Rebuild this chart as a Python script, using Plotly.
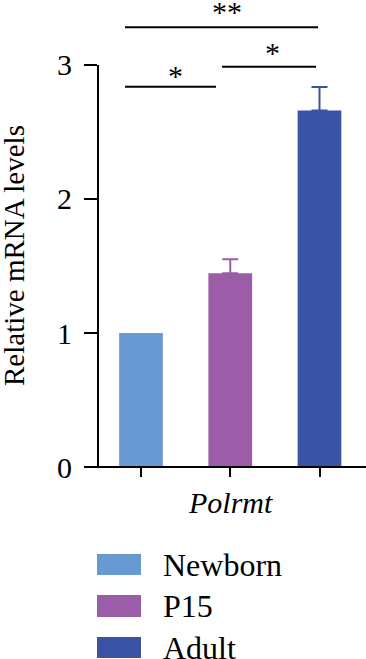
import plotly.graph_objects as go

# ---- data ----
groups = ["Newborn", "P15", "Adult"]
values = [1.0, 1.445, 2.66]
err_up = [0.0, 0.105, 0.175]
colors = ["#6899D2", "#9B5DA7", "#3A53A5"]
y_ticks = [0, 1, 2, 3]
gene_label = "Polrmt"
y_title = "Relative mRNA levels"
# significance brackets: (from group idx, to group idx, label)
sig_pairs = [(0, 2, "**"), (0, 1, "*"), (1, 2, "*")]

FONT = "Liberation Serif"
W, H = 366, 659
ML, MR, MT, MB = 98, 0, 0, 192
plot_h = H - MT - MB
plot_w = W - ML - MR
y_max = 3.485

fig = go.Figure()
for i, g in enumerate(groups):
    fig.add_trace(go.Bar(
        x=[g], y=[values[i]], name=g,
        marker=dict(color=colors[i], line=dict(width=0)),
        width=0.49,
        error_y=dict(type="data", symmetric=False, array=[err_up[i]], arrayminus=[0],
                     color=colors[i], thickness=2, width=8, visible=err_up[i] > 0),
        showlegend=False,
    ))

shapes = []
# y axis line (0..3)
shapes.append(dict(type="line", xref="paper", yref="y", x0=0, x1=0, y0=0, y1=y_ticks[-1],
                   line=dict(color="black", width=2)))
# x axis line extending slightly left of y axis
shapes.append(dict(type="line", xref="paper", yref="paper", x0=-13 / plot_w, x1=1, y0=0, y1=0,
                   line=dict(color="black", width=2)))

# significance brackets
bracket_geo = {
    (0, 2): dict(x0=-0.179, x1=1.983, y=3.281, tx=0.964, ty=3.40),
    (0, 1): dict(x0=-0.179, x1=0.840, y=2.838, tx=0.381, ty=2.92),
    (1, 2): dict(x0=0.908, x1=1.961, y=2.987, tx=1.468, ty=3.09),
}
annotations = []
for a, b, lab in sig_pairs:
    gdef = bracket_geo[(a, b)]
    shapes.append(dict(type="line", xref="x", yref="y", x0=gdef["x0"], x1=gdef["x1"],
                       y0=gdef["y"], y1=gdef["y"], line=dict(color="black", width=2)))
    annotations.append(dict(xref="x", yref="y", x=gdef["tx"], y=gdef["ty"], text=lab,
                            showarrow=False, xanchor="center", yanchor="middle",
                            font=dict(family=FONT, size=30, color="black")))

# y title
annotations.append(dict(xref="paper", yref="paper", x=(14 - ML) / plot_w, y=1 - 256 / plot_h,
                        text=y_title, textangle=-90, showarrow=False,
                        xanchor="center", yanchor="middle",
                        font=dict(family=FONT, size=29, color="black")))
# gene label
annotations.append(dict(xref="x", yref="paper", x=1, y=(plot_h - 503) / plot_h,
                        text="<i>" + gene_label + "</i>", showarrow=False,
                        xanchor="center", yanchor="middle",
                        font=dict(family=FONT, size=30, color="black")))

# manual legend
rows = [(554, 575), (595, 617), (637, 658)]
for i, g in enumerate(groups):
    t, b = rows[i]
    shapes.append(dict(type="rect", xref="paper", yref="paper",
                       x0=(97 - ML) / plot_w, x1=(141 - ML) / plot_w,
                       y0=(plot_h - b) / plot_h, y1=(plot_h - t) / plot_h,
                       fillcolor=colors[i], line=dict(width=0)))
    annotations.append(dict(xref="paper", yref="paper", x=(161 - ML) / plot_w,
                            y=(plot_h - (t + b) / 2) / plot_h, text=g, showarrow=False,
                            xanchor="left", yanchor="middle",
                            font=dict(family=FONT, size=32, color="black")))

fig.update_layout(
    width=W, height=H,
    margin=dict(l=ML, r=MR, t=MT, b=MB, pad=0),
    paper_bgcolor="white", plot_bgcolor="white",
    barmode="overlay",
    shapes=shapes, annotations=annotations,
    font=dict(family=FONT, color="black"),
    xaxis=dict(type="category", range=[-0.482, 2.521], showline=False, showgrid=False,
               zeroline=False, ticks="outside", ticklen=9, tickwidth=2, tickcolor="black",
               showticklabels=False, fixedrange=True),
    yaxis=dict(range=[0, y_max], tickvals=y_ticks, showline=False, showgrid=False,
               zeroline=False, ticks="outside", ticklen=13, tickwidth=2, tickcolor="black",
               tickfont=dict(family=FONT, size=30, color="black"), ticklabelstandoff=6,
               fixedrange=True),
)

fig.write_html(
    "out.html",
    config={"displayModeBar": False},
    post_script="document.body.style.margin='0';document.body.style.overflow='hidden';",
)
